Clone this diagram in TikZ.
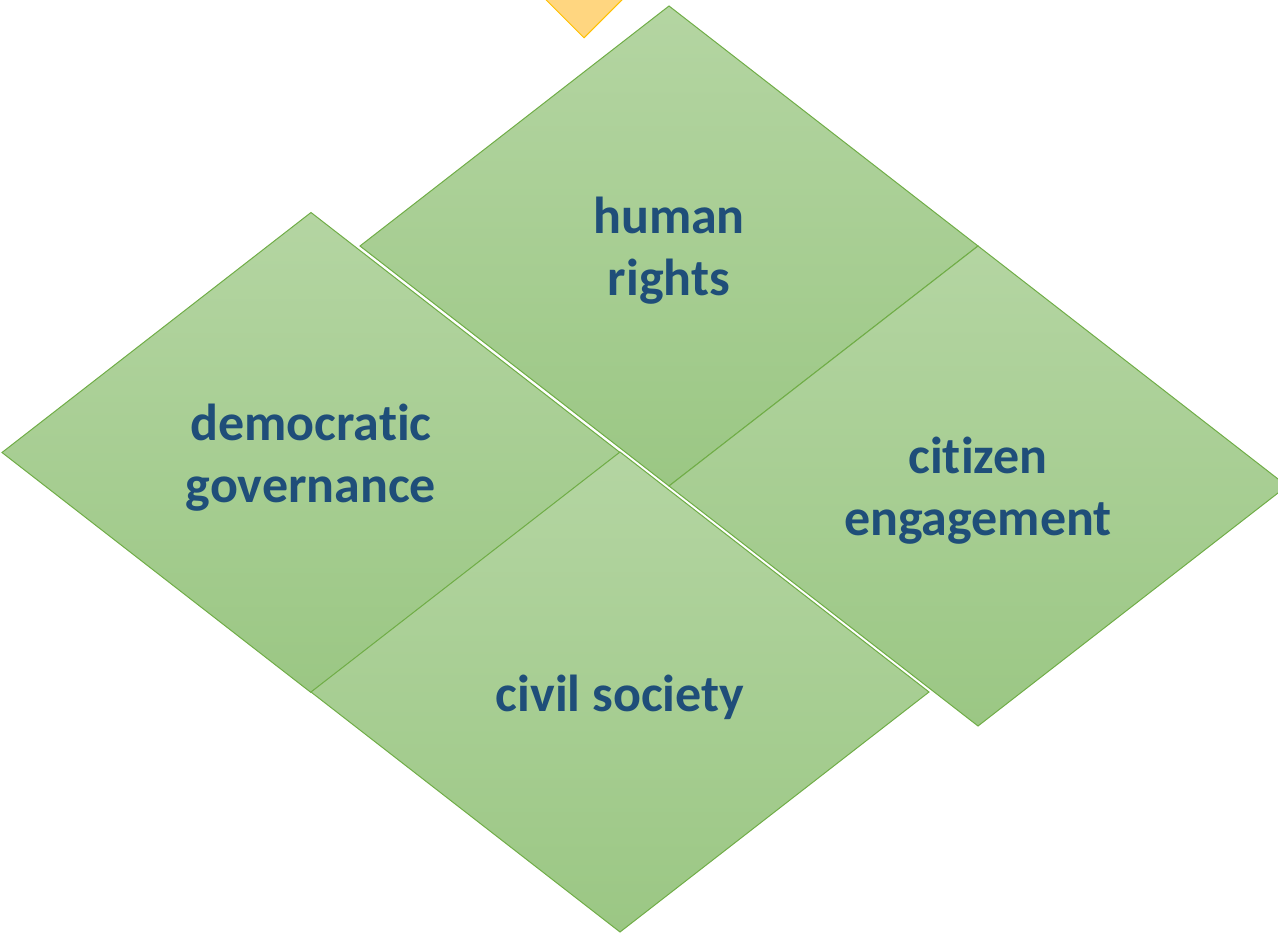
\documentclass[tikz,border=0pt]{standalone}
\usepackage{fontspec}
\setmainfont{Carlito}[Ligatures={NoCommon}]
\usetikzlibrary{shapes.geometric}
\definecolor{gtop}{HTML}{B4D5A2}
\definecolor{gbot}{HTML}{9BC784}
\definecolor{gline}{HTML}{70AD47}
\definecolor{txt}{HTML}{1F4E79}
\definecolor{yfill}{HTML}{FFD680}
\definecolor{yline}{HTML}{FFC000}
\tikzset{
  tile/.style={diamond, draw=gline, line width=1pt, top color=gtop, bottom color=gbot,
    minimum width=618pt, minimum height=480pt, inner sep=0pt, outer sep=0pt, aspect=1.2875},
  label/.style={text=txt, font=\fontsize{52}{62}\selectfont\bfseries, align=center, inner sep=0pt}
}
\begin{document}
\begin{tikzpicture}[x=1pt,y=-1pt]
\useasboundingbox (0,0) rectangle (1278,933);
\clip (0,0) rectangle (1278,933);
\node[diamond, draw=yline, line width=1pt, fill=yfill, minimum width=120pt, minimum height=120pt, inner sep=0pt, aspect=1] (top) at (584,-22) {};
\node[tile] (dg) at (311,452.5) {};
\node[tile] (cs) at (620,692) {};
\node[tile] (hr) at (669,246) {};
\node[tile] (ce) at (978,486) {};
\node[label] (dgt) at ([yshift=-5pt]dg.center) {democratic\\governance};
\node[label] (cst) at ([yshift=-5pt]cs.center) {civil society};
\node[label] (hrt) at ([yshift=-5pt]hr.center) {human\\rights};
\node[label] (cet) at ([yshift=-5pt]ce.center) {citizen\\engagement};
\end{tikzpicture}
\end{document}
